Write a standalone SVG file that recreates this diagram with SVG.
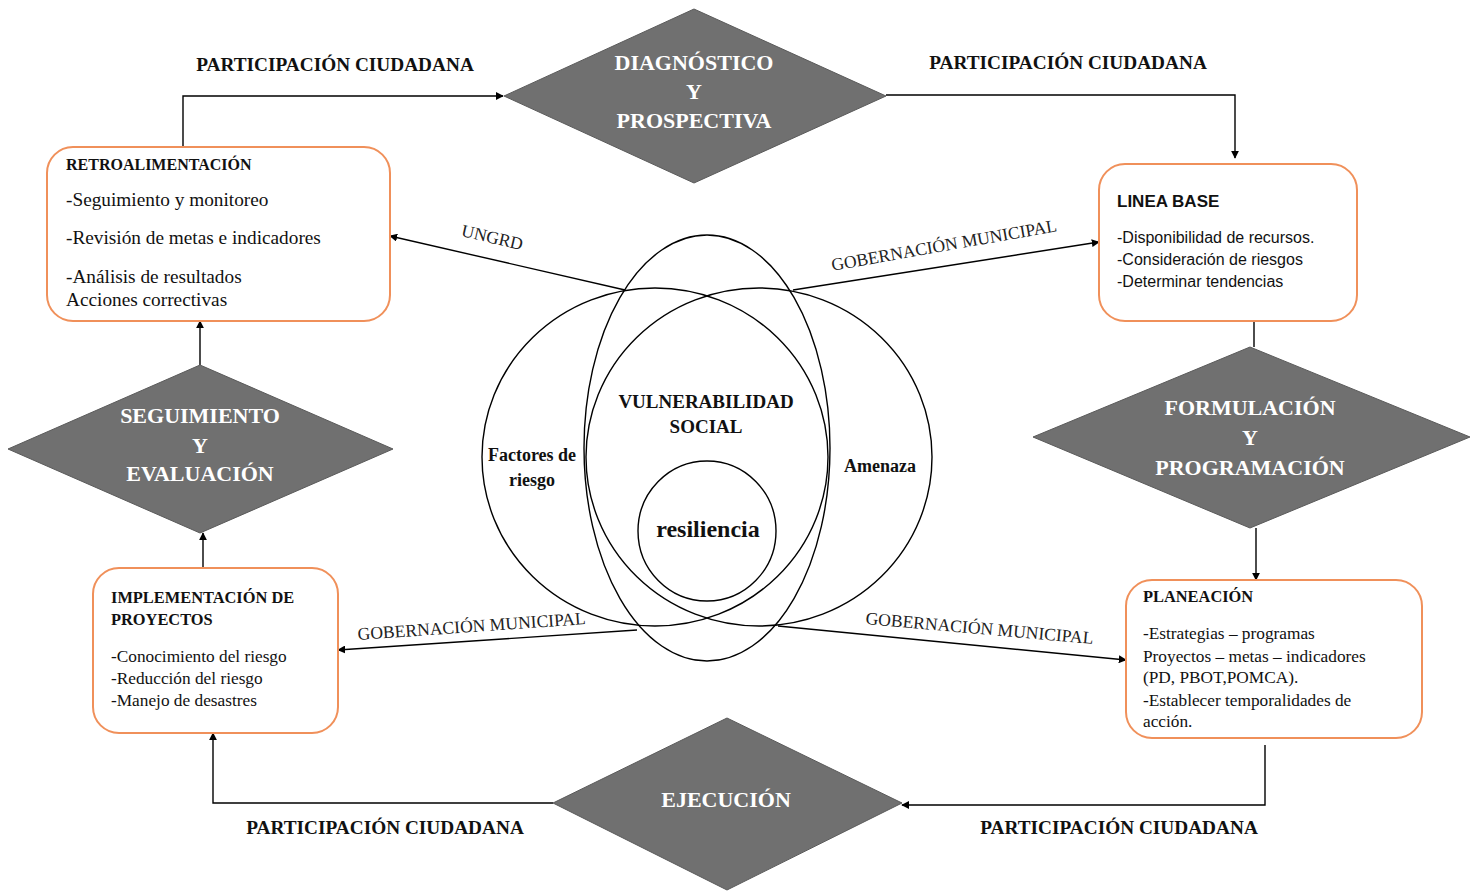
<svg xmlns="http://www.w3.org/2000/svg" width="1477" height="893" viewBox="0 0 1477 893">
<defs>
<marker id="ah" viewBox="0 0 10 10" refX="9" refY="5" markerWidth="8" markerHeight="8" markerUnits="userSpaceOnUse" orient="auto"><path d="M0,0 L10,5 L0,10 z" fill="#000"/></marker>
<style>
.dia{fill:#707070;stroke:#5a5a5a;stroke-width:1}
.dt{font-family:"Liberation Serif",serif;font-weight:bold;font-size:22px;fill:#fff;text-anchor:middle}
.box{fill:#fff;stroke:#f0905a;stroke-width:2}
.ser{font-family:"Liberation Serif",serif;fill:#111}
.r1{font-size:19.3px}
.r2{font-size:17.3px}
.serb{font-family:"Liberation Serif",serif;font-weight:bold;font-size:16.4px;fill:#111}
.san{font-family:"Liberation Sans",sans-serif;font-size:16px;fill:#111}
.sanb{font-family:"Liberation Sans",sans-serif;font-size:17px;font-weight:bold;fill:#111}
.pc{font-family:"Liberation Serif",serif;font-weight:bold;font-size:19.3px;fill:#111;text-anchor:middle}
.gl{font-family:"Liberation Serif",serif;font-size:17.6px;fill:#222;text-anchor:middle}
.con{fill:none;stroke:#000;stroke-width:1.4}
.vc{fill:none;stroke:#000;stroke-width:1.4}
.vt{font-family:"Liberation Serif",serif;font-weight:bold;fill:#111;text-anchor:middle}
</style>
</defs>
<rect width="1477" height="893" fill="#fff"/>

<g id="connectors">
<polyline class="con" points="183,147 183,96 503,96" marker-end="url(#ah)"/>
<polyline class="con" points="886,95 1235,95 1235,158" marker-end="url(#ah)"/>
<line class="con" x1="1254" y1="321" x2="1254" y2="347"/>
<line class="con" x1="1256" y1="528" x2="1256" y2="580" marker-end="url(#ah)"/>
<polyline class="con" points="1265,745 1265,805 902,805" marker-end="url(#ah)"/>
<polyline class="con" points="553,803 213,803 213,733" marker-end="url(#ah)"/>
<line class="con" x1="203" y1="568" x2="203" y2="533" marker-end="url(#ah)"/>
<line class="con" x1="200" y1="365" x2="200" y2="321" marker-end="url(#ah)"/>
<line class="con" x1="625" y1="290" x2="390" y2="236" marker-end="url(#ah)"/>
<line class="con" x1="793" y1="290" x2="1099" y2="242" marker-end="url(#ah)"/>
<line class="con" x1="637" y1="630" x2="338" y2="650" marker-end="url(#ah)"/>
<line class="con" x1="778" y1="626" x2="1126" y2="660" marker-end="url(#ah)"/>
<text class="pc" x="335" y="71">PARTICIPACIÓN CIUDADANA</text>
<text class="pc" x="1068" y="69">PARTICIPACIÓN CIUDADANA</text>
<text class="pc" x="385" y="834">PARTICIPACIÓN CIUDADANA</text>
<text class="pc" x="1119" y="834">PARTICIPACIÓN CIUDADANA</text>
<text class="gl" transform="translate(491,243) rotate(13)">UNGRD</text>
<text class="gl" transform="translate(945,251) rotate(-10)">GOBERNACIÓN MUNICIPAL</text>
<text class="gl" transform="translate(472,632) rotate(-4)">GOBERNACIÓN MUNICIPAL</text>
<text class="gl" transform="translate(979,634) rotate(5)">GOBERNACIÓN MUNICIPAL</text>
</g>

<g id="venn">
<ellipse class="vc" cx="655" cy="457" rx="173" ry="169"/>
<ellipse class="vc" cx="759" cy="457" rx="173" ry="169"/>
<ellipse class="vc" cx="707" cy="448" rx="123" ry="213"/>
<ellipse class="vc" cx="707" cy="531" rx="69" ry="70"/>
<text class="vt" x="706" y="408" font-size="19">VULNERABILIDAD</text>
<text class="vt" x="706" y="433" font-size="19">SOCIAL</text>
<text class="vt" x="532" y="461" font-size="18">Factores de</text>
<text class="vt" x="532" y="486" font-size="18">riesgo</text>
<text class="vt" x="880" y="472" font-size="18">Amenaza</text>
<text class="vt" x="708" y="537" font-size="24">resiliencia</text>
</g>

<g id="diagnostico">
<polygon class="dia" points="504,96 694,9 886,96 694,183"/>
<text class="dt" x="694" y="70">DIAGNÓSTICO</text>
<text class="dt" x="694" y="99">Y</text>
<text class="dt" x="694" y="128">PROSPECTIVA</text>
</g>

<g id="formulacion">
<polygon class="dia" points="1033,437 1250,347 1470,437 1250,528"/>
<text class="dt" x="1250" y="415">FORMULACIÓN</text>
<text class="dt" x="1250" y="445">Y</text>
<text class="dt" x="1250" y="475">PROGRAMACIÓN</text>
</g>

<g id="seguimiento">
<polygon class="dia" points="8,449 200,365 393,449 200,533"/>
<text class="dt" x="200" y="423">SEGUIMIENTO</text>
<text class="dt" x="200" y="453">Y</text>
<text class="dt" x="200" y="481">EVALUACIÓN</text>
</g>

<g id="ejecucion">
<polygon class="dia" points="553,803 727,718 902,803 727,890"/>
<text class="dt" x="726" y="807">EJECUCIÓN</text>
</g>

<g id="retroalimentacion">
<rect class="box" x="47" y="147" width="343" height="174" rx="26"/>
<text class="serb" x="66" y="170" style="font-size:16px">RETROALIMENTACIÓN</text>
<text class="ser r1" x="66" y="206">-Seguimiento y monitoreo</text>
<text class="ser r1" x="66" y="244">-Revisión de metas e indicadores</text>
<text class="ser r1" x="66" y="283">-Análisis de resultados</text>
<text class="ser r1" x="66" y="306">Acciones correctivas</text>
</g>

<g id="lineabase">
<rect class="box" x="1099" y="164" width="258" height="157" rx="26"/>
<text class="sanb" x="1117" y="207">LINEA BASE</text>
<text class="san" x="1117" y="243">-Disponibilidad de recursos.</text>
<text class="san" x="1117" y="265">-Consideración de riesgos</text>
<text class="san" x="1117" y="287">-Determinar tendencias</text>
</g>

<g id="implementacion">
<rect class="box" x="93" y="568" width="245" height="165" rx="26"/>
<text class="serb" x="111" y="603">IMPLEMENTACIÓN DE</text>
<text class="serb" x="111" y="625">PROYECTOS</text>
<text class="ser r2" x="111" y="662">-Conocimiento del riesgo</text>
<text class="ser r2" x="111" y="684">-Reducción del riesgo</text>
<text class="ser r2" x="111" y="706">-Manejo de desastres</text>
</g>

<g id="planeacion">
<rect class="box" x="1126" y="580" width="296" height="158" rx="26"/>
<text class="serb" x="1143" y="602">PLANEACIÓN</text>
<text class="ser r2" x="1143" y="639">-Estrategias – programas</text>
<text class="ser r2" x="1143" y="662">Proyectos – metas – indicadores</text>
<text class="ser r2" x="1143" y="683">(PD, PBOT,POMCA).</text>
<text class="ser r2" x="1143" y="706">-Establecer temporalidades de</text>
<text class="ser r2" x="1143" y="727">acción.</text>
</g>
</svg>
